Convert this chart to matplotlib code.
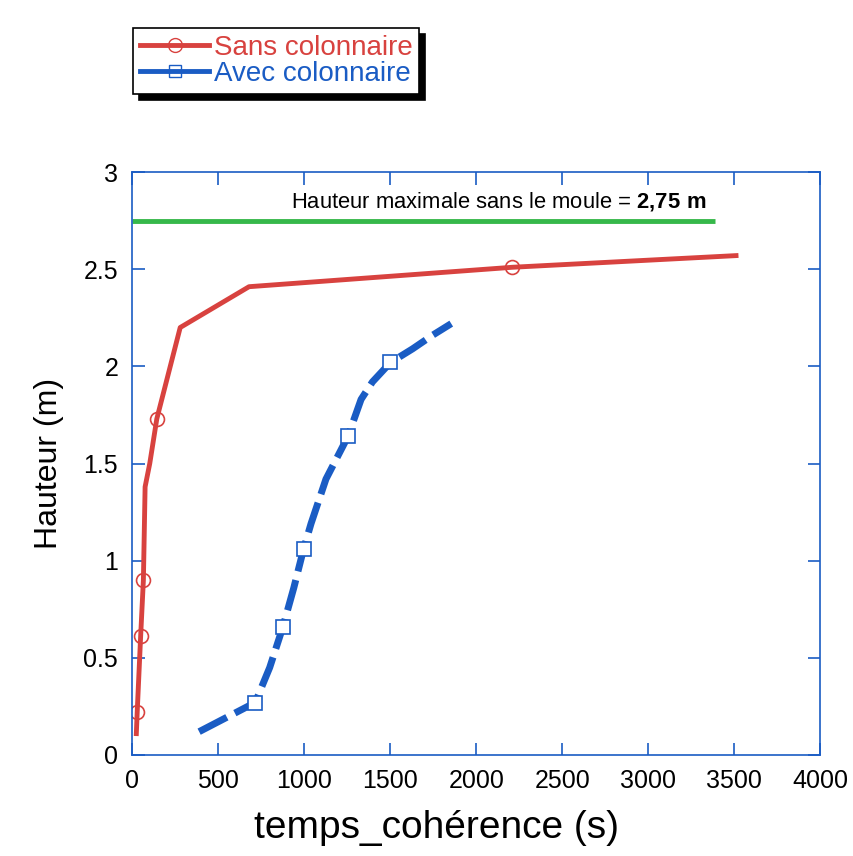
import matplotlib.pyplot as plt
from matplotlib.lines import Line2D

# Sans colonnaire (red, solid, circle markers on some points)
sans_t = [25, 30, 50, 66, 76, 103, 144, 280, 680, 2210, 3510]
sans_h = [0.11, 0.22, 0.61, 0.90, 1.38, 1.50, 1.73, 2.20, 2.41, 2.51, 2.57]
sans_marks = [1, 2, 3, 6, 9]

# Avec colonnaire (blue, dashed, square markers on some points)
avec_t = [390, 716, 800, 877, 940, 997, 1040, 1127, 1255, 1331, 1397, 1502, 1630, 1746, 1855]
avec_h = [0.12, 0.27, 0.45, 0.66, 0.86, 1.06, 1.19, 1.42, 1.64, 1.83, 1.92, 2.02, 2.09, 2.16, 2.22]
avec_marks = [1, 3, 5, 8, 11]

h_max = 2.75
h_max_end = 3390

red = '#d8423f'
blue = '#1a5cc4'
green = '#36b84a'

plt.rcParams['font.family'] = ['Liberation Sans', 'DejaVu Sans']
plt.rcParams['mathtext.fontset'] = 'custom'
plt.rcParams['mathtext.rm'] = 'Liberation Sans'
plt.rcParams['mathtext.bf'] = 'Liberation Sans:bold'

fig = plt.figure(figsize=(8.54, 8.56), dpi=100)
ax = fig.add_axes([0.1546, 0.118, 0.806, 0.681])

ax.plot([0, h_max_end], [h_max, h_max], color=green, lw=3.5, solid_capstyle='butt')
ax.text(2130, 2.85, 'Hauteur maximale sans le moule = $\\mathbf{2{,}75\\ m}$',
        ha='center', va='center', fontsize=15.8)

ax.plot(sans_t, sans_h, color=red, lw=3.5, marker='o', markevery=sans_marks,
        markersize=10, markerfacecolor='none', markeredgecolor=red, markeredgewidth=1.2)
ax.plot(avec_t, avec_h, color=blue, lw=5, dashes=(4.5, 1.3), marker='s',
        markevery=avec_marks, markersize=10, markerfacecolor='white',
        markeredgecolor=blue, markeredgewidth=1.2)

ax.set_xlim(0, 4000)
ax.set_ylim(0, 3)
ax.set_xticks(range(0, 4001, 500))
ax.set_yticks([0, 0.5, 1, 1.5, 2, 2.5, 3])
ax.set_yticklabels(['0', '0.5', '1', '1.5', '2', '2.5', '3'])
for s in ax.spines.values():
    s.set_color(blue)
    s.set_linewidth(1.2)
ax.tick_params(direction='in', color=blue, length=9, width=1.2, labelsize=18,
               top=True, right=True, pad=10)
ax.set_xlabel('temps_cohérence (s)', fontsize=28)
ax.xaxis.set_label_coords(0.442, -0.095)
ax.set_ylabel('Hauteur (m)', fontsize=23, labelpad=14)

handles = [
    Line2D([], [], color=red, lw=3.5, marker='o', markersize=10,
           markerfacecolor='none', markeredgecolor=red),
    Line2D([], [], color=blue, lw=3.5, marker='s', markersize=9,
           markerfacecolor='none', markeredgecolor=blue),
]
leg = fig.legend(handles, ['Sans colonnaire', 'Avec colonnaire'],
                 loc='upper left', bbox_to_anchor=(0.1557, 0.967),
                 fontsize=20, frameon=True, fancybox=False,
                 shadow={'color': 'black', 'alpha': 1, 'ox': 4, 'oy': -4},
                 edgecolor='black', handlelength=2.5, handletextpad=0.15,
                 labelspacing=0.0, borderpad=0.25, borderaxespad=0)
leg.get_frame().set_linewidth(1.2)
leg.texts[0].set_color(red)
leg.texts[1].set_color(blue)

fig.savefig('out.png', dpi=100)
